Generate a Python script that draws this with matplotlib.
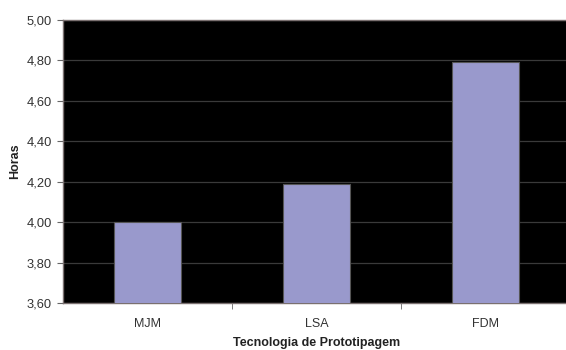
import matplotlib
matplotlib.use("Agg")
import matplotlib.pyplot as plt
import numpy as np
from matplotlib.ticker import FixedLocator, FuncFormatter

# tempo de construção por tecnologia
tecnologias = ["MJM", "LSA", "FDM"]
horas = [4.00, 4.19, 4.79]
yticks = [3.60, 3.80, 4.00, 4.20, 4.40, 4.60, 4.80, 5.00]

plt.rcParams['font.family'] = ['Liberation Sans', 'DejaVu Sans']

fig = plt.figure(figsize=(5.66, 3.5), dpi=100)
ax = fig.add_axes([63 / 566, 47 / 350, 507 / 566, 283 / 350])
ax.set_facecolor("black")

x = np.arange(len(tecnologias))
ax.bar(x, horas, width=0.4, color="#9999cc", edgecolor="#555555",
       linewidth=0.8, zorder=3)

ax.set_xlim(-0.5, len(tecnologias) - 0.5)
ax.set_ylim(yticks[0], yticks[-1])
ax.set_yticks(yticks)
ax.yaxis.set_major_formatter(FuncFormatter(lambda v, p: f"{v:.2f}".replace(".", ",")))
ax.yaxis.grid(True, color="#3a3a3a", linewidth=0.9, zorder=1)

# rótulos no centro, marcas entre categorias
ax.set_xticks(x)
ax.set_xticklabels(tecnologias)
ax.tick_params(axis="x", which="major", length=0, pad=11, labelsize=9,
               labelcolor="#333333")
ax.xaxis.set_minor_locator(FixedLocator(x[:-1] + 0.5))
ax.tick_params(axis="x", which="minor", length=4, color="#666666", direction="out")
ax.tick_params(axis="y", length=4, color="#666666", labelsize=9.3,
               labelcolor="#333333", pad=4)

for s in ["left", "bottom", "top"]:
    ax.spines[s].set_color("#7a7070")
    ax.spines[s].set_linewidth(1.0)
ax.spines["right"].set_visible(False)

ax.set_xlabel("Tecnologia de Prototipagem", fontsize=9, fontweight="bold",
              color="#222222", labelpad=4.5)
ax.set_ylabel("Horas", fontsize=9, fontweight="bold", color="#222222",
              labelpad=4)

fig.savefig("out.png", dpi=100, facecolor="white")
